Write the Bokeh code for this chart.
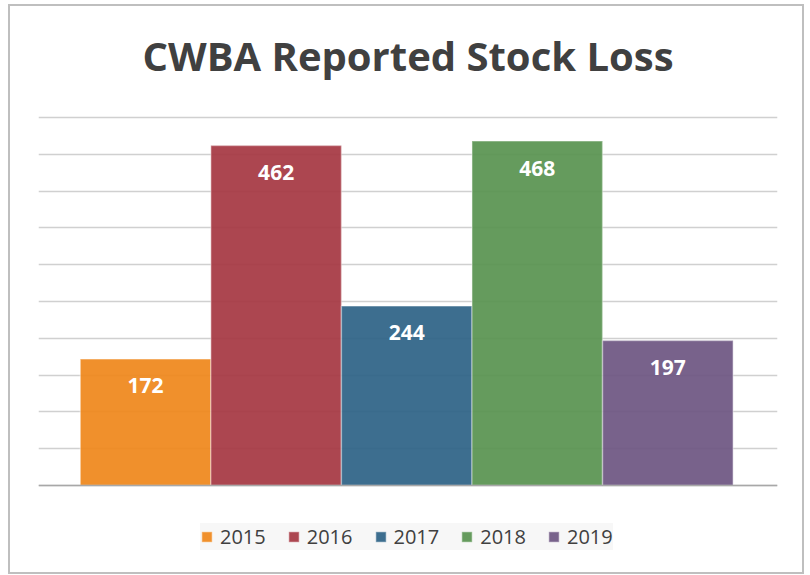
from bokeh.plotting import figure
from bokeh.models import ColumnDataSource, Range1d, SingleIntervalTicker, Legend, LegendItem, Span
from bokeh.core.properties import value
from bokeh.embed import file_html
from bokeh.resources import INLINE

# data
title_text = "CWBA Reported Stock Loss"
years = ["2015", "2016", "2017", "2018", "2019"]
losses = [172, 462, 244, 468, 197]
colors = ["#EF871A", "#A53641", "#2D6285", "#58924F", "#6C5581"]

positions = list(range(len(years)))
src = ColumnDataSource(dict(x=positions, top=losses, year=years, color=colors,
                            label=[str(v) for v in losses]))

p = figure(width=796, height=570, output_backend="svg", toolbar_location=None,
           x_range=Range1d(-0.82, 4.84), y_range=Range1d(-123.6, 523.1),
           min_border_left=28, min_border_right=29, min_border_top=94, min_border_bottom=0)
p.styles = {"border": "2px solid #bfbfbf", "margin-left": "8px", "margin-top": "4px"}

p.title.text = title_text
p.title.text_font = "Open Sans"
p.title.text_font_style = "bold"
p.title.text_font_size = "40px"
p.title.text_color = "#404040"
p.title.align = "center"
p.title.standoff = 36

p.outline_line_color = None
p.background_fill_color = "white"
p.border_fill_color = "white"

p.xaxis.visible = False
p.yaxis.visible = False
p.xgrid.visible = False
p.ygrid.ticker = SingleIntervalTicker(interval=50)
p.ygrid.bounds = (-1, 501)
p.ygrid.grid_line_color = "#d0d0d0"
p.ygrid.grid_line_width = 1.5

p.add_layout(Span(location=0, dimension="width", line_color="#a8a8a8", line_width=1.5))

renderers = []
for i, yr in enumerate(years):
    r = p.vbar(x=[positions[i]], top=[losses[i]], width=1.0, bottom=0,
               fill_color=colors[i], fill_alpha=0.92,
               line_color="white", line_alpha=0.35, line_width=1.5)
    renderers.append((yr, r))

p.text(x="x", y="top", text="label", source=src, text_align="center", text_baseline="middle",
       y_offset=27, text_color="white", text_font=value("Open Sans"), text_font_style="bold",
       text_font_size="21px")

legend = Legend(items=[LegendItem(label=yr, renderers=[r]) for yr, r in renderers],
                orientation="horizontal", location=(162, 26),
                glyph_width=13, glyph_height=13, label_standoff=7, spacing=21,
                label_text_font="Open Sans",
                label_text_font_size="20px", label_text_color="#404040",
                background_fill_color="#f7f7f7", background_fill_alpha=1.0,
                border_line_color=None, padding=16, margin=0)
p.add_layout(legend, "center")

open("out.html", "w").write(file_html(p, INLINE))
